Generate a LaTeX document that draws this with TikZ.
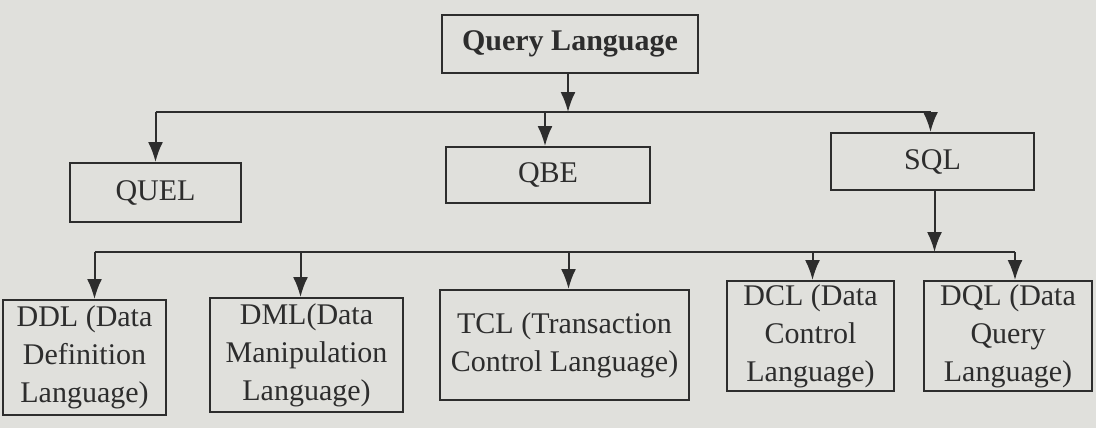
\documentclass[tikz,border=0pt]{standalone}
\usepackage{fontspec}
\setmainfont{Liberation Serif}
\usetikzlibrary{arrows.meta}
\definecolor{bg}{RGB}{224,224,220}
\definecolor{ink}{RGB}{45,45,45}
\begin{document}
\begin{tikzpicture}[x=0.5pt,y=-0.5pt,
  box/.style={draw=ink,line width=1pt,fill=bg,inner sep=0pt,align=center,
    font=\fontsize{15}{19}\selectfont,text=ink},
  link/.style={draw=ink,line width=1pt},
  arr/.style={link,-{Latex[length=10pt,width=7.5pt]}}]
\fill[bg] (0,0) rectangle (1096,428);
\useasboundingbox (0,0) rectangle (1096,428);
% top level
\node[box,minimum width=128pt,minimum height=29pt,font=\fontsize{15}{19}\selectfont\bfseries] (ql) at (570,44) {Query Language};
\node[box,minimum width=85.5pt,minimum height=29.5pt] (quel) at (155.5,192.5) {QUEL};
\node[box,minimum width=102pt,minimum height=28pt] (qbe) at (548,175) {QBE};
\node[box,minimum width=101.5pt,minimum height=28.5pt] (sql) at (932.5,161.5) {SQL};
% bottom level
\node[box,minimum width=81.5pt,minimum height=57.5pt] (ddl) at (84.5,357.5) {DDL (Data\\Definition\\Language)};
\node[box,minimum width=96.5pt,minimum height=57pt] (dml) at (306.5,355) {DML(Data\\Manipulation\\Language)};
\node[box,minimum width=124.5pt,minimum height=55pt] (tcl) at (564.5,345) {TCL (Transaction\\Control Language)};
\node[box,minimum width=83.5pt,minimum height=55pt] (dcl) at (810.5,336) {DCL (Data\\Control\\Language)};
\node[box,minimum width=84pt,minimum height=55pt] (dql) at (1008,336) {DQL (Data\\Query\\Language)};
% bus coordinates
\coordinate (b1) at (0,112);
\coordinate (b2) at (0,252);
% first level connectors
\draw[arr] ([xshift=-1pt]ql.south) -- ([xshift=-1pt]ql.south |- b1);
\draw[link] (quel.north |- b1) -- ([xshift=-1pt]sql.north |- b1);
\draw[arr] (quel.north |- b1) -- (quel.north);
\draw[arr] ([xshift=-1.5pt]qbe.north |- b1) -- ([xshift=-1.5pt]qbe.north);
\draw[arr] ([xshift=-1pt]sql.north |- b1) -- ([xshift=-1pt]sql.north);
% second level connectors
\draw[arr] ([xshift=1pt]sql.south) -- ([xshift=1pt]sql.south |- b2);
\draw[link] ([xshift=5pt]ddl.north |- b2) -- ([xshift=3.5pt]dql.north |- b2);
\draw[arr] ([xshift=5pt]ddl.north |- b2) -- ([xshift=5pt]ddl.north);
\draw[arr] ([xshift=-3pt]dml.north |- b2) -- ([xshift=-3pt]dml.north);
\draw[arr] ([xshift=2pt]tcl.north |- b2) -- ([xshift=2pt]tcl.north);
\draw[arr] ([xshift=1pt]dcl.north |- b2) -- ([xshift=1pt]dcl.north);
\draw[arr] ([xshift=3.5pt]dql.north |- b2) -- ([xshift=3.5pt]dql.north);
\end{tikzpicture}
\end{document}
